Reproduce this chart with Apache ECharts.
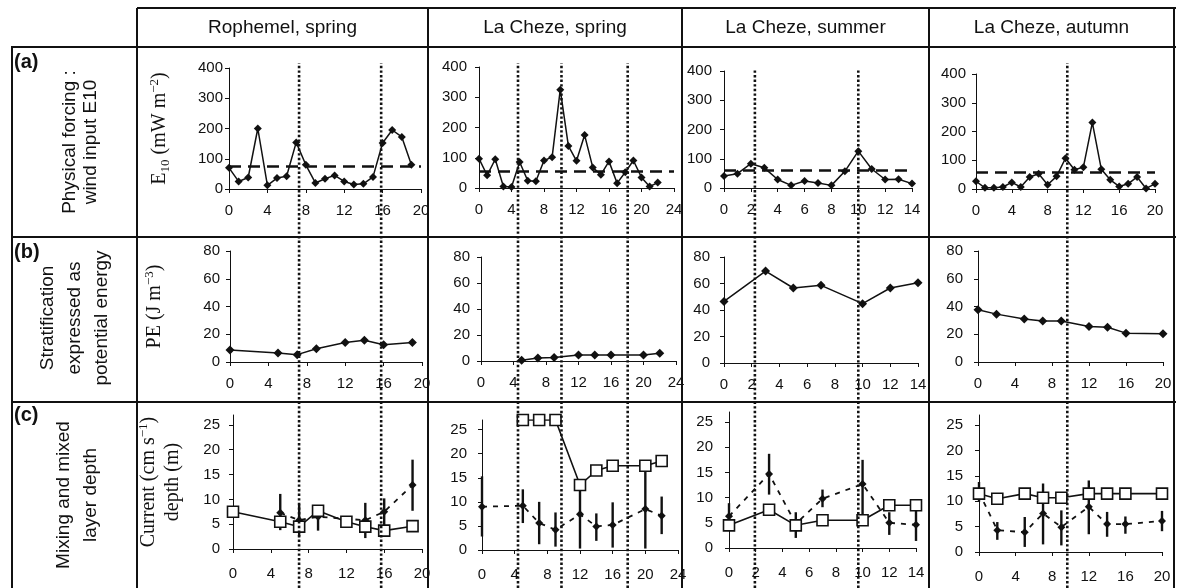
<!DOCTYPE html>
<html>
<head>
<meta charset="utf-8">
<script src="https://cdn.jsdelivr.net/npm/echarts@6/dist/echarts.min.js"></script>
<style>
  html, body { margin: 0; padding: 0; background: #fff; }
  #main { width: 1177px; height: 588px; }
</style>
</head>
<body>
<div id="main"></div>
<script>
  // ---- values ----
  var sites = ['Rophemel, spring', 'La Cheze, spring', 'La Cheze, summer', 'La Cheze, autumn'];
  var rowTags = ['(a)', '(b)', '(c)'];
  var rowText = ['Physical forcing :\nwind input E10', 'Stratification\nexpressed as\npotential energy', 'Mixing and mixed\nlayer depth'];

  var dayMax = [20, 24, 14, 20];
  var dayStep = [4, 4, 2, 4];

  // Rophemel, spring
  var ropDaysA = [0, 1, 2, 3, 4, 5, 6, 7, 8, 9, 10, 11, 12, 13, 14, 15, 16, 17, 18, 19];
  var ropE10 = [70, 25, 38, 200, 12, 36, 42, 154, 80, 20, 34, 45, 25, 15, 17, 40, 152, 195, 172, 80];
  var ropE10Mean = 75;
  var ropDaysB = [0, 5, 7, 9, 12, 14, 16, 19];
  var ropPE = [8.6, 6.5, 5.3, 9.6, 14.1, 15.6, 12.5, 14.1];
  var ropDaysDepth = [0, 5, 7, 9, 12, 14, 16, 19];
  var ropDepth = [7.5, 5.5, 4.5, 7.7, 5.5, 4.5, 3.7, 4.6];
  var ropDaysCur = [5, 7, 9, 14, 16, 19];
  var ropCur = [7.3, 5.8, 6.5, 5.8, 7.5, 12.9];
  var ropCurLow = [3.8, 2.5, 3.7, 2.2, 4.5, 7.7];
  var ropCurHigh = [11.1, 9, 8.5, 9.3, 10.2, 18];
  var ropEvents = [7.3, 15.85];

  // La Cheze, spring
  var lcsDaysA = [0, 1, 2, 3, 4, 5, 6, 7, 8, 9, 10, 11, 12, 13, 14, 15, 16, 17, 18, 19, 20, 21, 22];
  var lcsE10 = [97, 42, 95, 5, 3, 86, 24, 22, 91, 102, 325, 139, 90, 175, 68, 44, 88, 16, 52, 91, 35, 5, 18];
  var lcsE10Mean = 55;
  var lcsDaysB = [5, 7, 9, 12, 14, 16, 20, 22];
  var lcsPE = [0.5, 2.3, 2.6, 4.6, 4.6, 4.6, 4.6, 5.9];
  var lcsDaysDepth = [5, 7, 9, 12, 14, 16, 20, 22];
  var lcsDepth = [27, 27, 27, 13.5, 16.5, 17.5, 17.5, 18.5];
  var lcsDaysCur = [0, 5, 7, 9, 12, 14, 16, 20, 22];
  var lcsCur = [9.0, 9.2, 5.6, 4.2, 7.4, 4.9, 5.2, 8.5, 7.1];
  var lcsCurLow = [2.8, 5.6, 1.2, 0.7, 0.3, 1.9, 0.5, 0.3, 3.3];
  var lcsCurHigh = [15.3, 12.6, 10, 7.8, 13.5, 7.6, 9.9, 17, 11.1];
  var lcsEvents = [4.8, 10.15, 18.3];

  // La Cheze, summer
  var lcuDaysA = [0, 1, 2, 3, 4, 5, 6, 7, 8, 9, 10, 11, 12, 13, 14];
  var lcuE10 = [41, 49, 83, 69, 29, 9, 24, 17, 9, 57, 126, 65, 29, 30, 15];
  var lcuE10Mean = 62;
  var lcuDaysB = [0, 3, 5, 7, 10, 12, 14];
  var lcuPE = [46.5, 69.4, 56.6, 58.6, 44.8, 56.6, 60.6];
  var lcuDaysDepth = [0, 3, 5, 7, 10, 12, 14];
  var lcuDepth = [4.5, 7.6, 4.5, 5.5, 5.5, 8.5, 8.5];
  var lcuDaysCur = [0, 3, 5, 7, 10, 12, 14];
  var lcuCur = [6.3, 14.7, 4.8, 9.8, 12.7, 5.0, 4.6];
  var lcuCurLow = [4.5, 10.6, 2.0, 8.1, 5.6, 2.6, 1.4];
  var lcuCurHigh = [8.9, 18.7, 7.1, 11.6, 17.5, 7.1, 7.7];
  var lcuEvents = [2.3, 10];

  // La Cheze, autumn
  var lcaDaysA = [0, 1, 2, 3, 4, 5, 6, 7, 8, 9, 10, 11, 12, 13, 14, 15, 16, 17, 18, 19, 20];
  var lcaE10 = [27, 4, 4, 7, 23, 7, 42, 53, 15, 44, 107, 67, 76, 231, 69, 32, 9, 18, 42, 2, 18];
  var lcaE10Mean = 58;
  var lcaDaysB = [0, 2, 5, 7, 9, 12, 14, 16, 20];
  var lcaPE = [37.6, 34.5, 31, 29.5, 29.5, 25.6, 25, 20.8, 20.4];
  var lcaDaysDepth = [0, 2, 5, 7, 9, 12, 14, 16, 20];
  var lcaDepth = [11.5, 10.5, 11.5, 10.7, 10.7, 11.5, 11.5, 11.5, 11.5];
  var lcaDaysCur = [0, 2, 5, 7, 9, 12, 14, 16, 20];
  var lcaCur = [11.8, 4.3, 3.9, 7.6, 4.9, 8.9, 5.5, 5.5, 6.1];
  var lcaCurLow = [9.9, 2.4, 1, 1.5, 1.3, 3.5, 3.0, 3.6, 4.1];
  var lcaCurHigh = [13.8, 5.9, 6.9, 13.5, 8.2, 14.1, 7.9, 7.0, 8.1];
  var lcaEvents = [10.2];

  var currentTicks = [0, 5, 10, 15, 20, 25];

  // ---- layout ----
  var FONT = '"Liberation Sans", Arial, Helvetica, sans-serif';
  var SERIF = '"Liberation Serif", "Times New Roman", serif';
  var INK = '#111';

  // panel boxes [left, top, right, bottom]
  var boxA = [[229, 68, 421, 189], [479, 67, 674, 188], [724, 71, 912, 188], [976, 74, 1155, 189]];
  var boxB = [[230, 251, 422, 362], [481, 257, 676, 361], [724, 257, 918, 363], [978, 251, 1163, 362]];
  var boxC = [[233, 415, 422, 549], [482, 420, 678, 550], [729, 412, 916, 548], [979, 415, 1162, 552]];
  var yLabMargin = [[6, 12, 12, 10], [10, 11, 14, 15], [13, 15, 16, 16]];
  var xLabMargin = [14, 14, 17];
  var eventTop = [63, 63, 70, 63];
  var colEdges = [137, 428, 682, 929, 1174];

  var e10Days = [ropDaysA, lcsDaysA, lcuDaysA, lcaDaysA];
  var e10Vals = [ropE10, lcsE10, lcuE10, lcaE10];
  var e10Means = [ropE10Mean, lcsE10Mean, lcuE10Mean, lcaE10Mean];
  var peDays = [ropDaysB, lcsDaysB, lcuDaysB, lcaDaysB];
  var peVals = [ropPE, lcsPE, lcuPE, lcaPE];
  var depthDays = [ropDaysDepth, lcsDaysDepth, lcuDaysDepth, lcaDaysDepth];
  var depthVals = [ropDepth, lcsDepth, lcuDepth, lcaDepth];
  var curDays = [ropDaysCur, lcsDaysCur, lcuDaysCur, lcaDaysCur];
  var curVals = [ropCur, lcsCur, lcuCur, lcaCur];
  var curLow = [ropCurLow, lcsCurLow, lcuCurLow, lcaCurLow];
  var curHigh = [ropCurHigh, lcsCurHigh, lcuCurHigh, lcaCurHigh];
  var events = [ropEvents, lcsEvents, lcuEvents, lcaEvents];

  var grids = [], xAxes = [], yAxes = [], series = [], graphics = [];

  function pairs(xs, ys) {
    return xs.map(function (x, i) { return [x, ys[i]]; });
  }

  var nameRich = {
    t: { fontFamily: SERIF, fontSize: 20, color: INK, lineHeight: 24 },
    sub: { fontFamily: SERIF, fontSize: 13, color: INK, verticalAlign: 'bottom' },
    sup: { fontFamily: SERIF, fontSize: 13, color: INK, verticalAlign: 'top' }
  };

  function addPanel(box, c, row, yMax, yStep, yName, nameGap, yTicks) {
    var gi = grids.length;
    grids.push({ left: box[0], top: box[1], width: box[2] - box[0], height: box[3] - box[1], outerBoundsMode: 'none' });
    xAxes.push({
      gridIndex: gi, type: 'value', min: 0, max: dayMax[c], interval: dayStep[c],
      axisLine: { show: true, onZero: false, lineStyle: { color: INK, width: 1 } },
      axisTick: { show: true, length: 4, lineStyle: { color: INK, width: 1 } },
      axisLabel: { show: true, color: INK, fontFamily: FONT, fontSize: 15, margin: xLabMargin[row] },
      splitLine: { show: false }
    });
    var y = {
      gridIndex: gi, type: 'value', min: 0, max: yMax, interval: yStep,
      axisLine: { show: true, onZero: false, lineStyle: { color: INK, width: 1 } },
      axisTick: { show: true, length: 4, lineStyle: { color: INK, width: 1 } },
      axisLabel: { show: true, color: INK, fontFamily: FONT, fontSize: 15, margin: yLabMargin[row][c] },
      splitLine: { show: false }
    };
    if (yTicks) {
      y.axisTick.customValues = yTicks;
      y.axisLabel.customValues = yTicks;
      y.axisLabel.formatter = function (v) { return yTicks.indexOf(v) >= 0 ? String(v) : ''; };
    }
    if (yName) {
      y.name = yName;
      y.nameLocation = 'middle';
      y.nameRotate = 90;
      y.nameGap = nameGap;
      y.nameTextStyle = { fontFamily: SERIF, fontSize: 20, color: INK, rich: nameRich };
    }
    yAxes.push(y);
    return gi;
  }

  function errorBar(params, api) {
    var hi = api.coord([api.value(0), api.value(2)]);
    var lo = api.coord([api.value(0), api.value(1)]);
    return {
      type: 'line',
      shape: { x1: hi[0], y1: hi[1], x2: lo[0], y2: lo[1] },
      style: { stroke: INK, lineWidth: 2.4 }
    };
  }

  for (var c = 0; c < 4; c++) {
    // (a) wind input
    var ga = addPanel(boxA[c], c, 0, 400, 100,
      c === 0 ? '{t|E}{sub|10}{t| (mW m}{sup|−2}{t|)}' : null, 57);
    series.push({
      type: 'line', xAxisIndex: ga, yAxisIndex: ga, data: pairs(e10Days[c], e10Vals[c]),
      symbol: 'diamond', symbolSize: 8, itemStyle: { color: INK },
      lineStyle: { color: INK, width: 1.5 }, z: 3,
      markLine: {
        silent: true, symbol: ['none', 'none'], label: { show: false }, animation: false,
        lineStyle: { color: INK, width: 2.6, type: [12, 7] },
        data: [{ yAxis: e10Means[c] }]
      }
    });

    // (b) potential energy
    var gb = addPanel(boxB[c], c, 1, 80, 20,
      c === 0 ? '{t|PE (J m}{sup|−3}{t|)}' : null, 63);
    series.push({
      type: 'line', xAxisIndex: gb, yAxisIndex: gb, data: pairs(peDays[c], peVals[c]),
      symbol: 'diamond', symbolSize: 9, itemStyle: { color: INK },
      lineStyle: { color: INK, width: 1.5 }, z: 3
    });

    // (c) current and mixed layer depth
    var gc = addPanel(boxC[c], c, 2, 27, 5,
      c === 0 ? '{t|Current (cm s}{sup|−1}{t|)}\n{t|depth (m)}' : null, 48, currentTicks);
    series.push({
      type: 'custom', xAxisIndex: gc, yAxisIndex: gc, renderItem: errorBar,
      encode: { x: 0, y: [1, 2] }, z: 2,
      data: curDays[c].map(function (d, i) { return [d, curLow[c][i], curHigh[c][i]]; }, null)
    });
    series.push({
      type: 'line', xAxisIndex: gc, yAxisIndex: gc, data: pairs(curDays[c], curVals[c]),
      symbol: 'diamond', symbolSize: 8, itemStyle: { color: INK },
      lineStyle: { color: INK, width: 1.8, type: [5, 6] }, z: 3
    });
    series.push({
      type: 'line', xAxisIndex: gc, yAxisIndex: gc, data: pairs(depthDays[c], depthVals[c]),
      symbol: 'rect', symbolSize: 11,
      itemStyle: { color: '#fff', borderColor: INK, borderWidth: 1.6 },
      lineStyle: { color: INK, width: 1.6 }, z: 4
    });

    // event lines running through the whole column
    var ge = grids.length;
    grids.push({ left: boxA[c][0], top: eventTop[c], width: boxA[c][2] - boxA[c][0], height: 588 - eventTop[c], outerBoundsMode: 'none' });
    xAxes.push({ gridIndex: ge, type: 'value', min: 0, max: dayMax[c], show: false });
    yAxes.push({ gridIndex: ge, type: 'value', min: 0, max: 1, show: false });
    events[c].forEach(function (d) {
      series.push({
        type: 'line', xAxisIndex: ge, yAxisIndex: ge, data: [[d, 0], [d, 1]],
        symbol: 'none', silent: true, z: 5,
        lineStyle: { color: INK, width: 2.6, type: [2.4, 2.2] }
      });
    });

    // column header
    graphics.push({
      type: 'text', x: (colEdges[c] + colEdges[c + 1]) / 2, y: 28, silent: true,
      style: { text: sites[c], fontFamily: FONT, fontSize: 19, fill: INK, align: 'center', verticalAlign: 'middle' }
    });
  }

  // table rules
  function rule(x1, y1, x2, y2) {
    graphics.push({ type: 'line', silent: true, shape: { x1: x1, y1: y1, x2: x2, y2: y2 }, style: { stroke: INK, lineWidth: 2 } });
  }
  rule(137, 8, 1176, 8);
  rule(11, 47, 1176, 47);
  rule(11, 237, 1176, 237);
  rule(11, 402, 1176, 402);
  rule(12, 47, 12, 588);
  colEdges.forEach(function (x) { rule(x, 8, x, 588); });

  // row tags and descriptions
  var tagY = [62, 252, 415];
  var rowMid = [142, 318, 495];
  var rowCx = [80, 75, 77];
  var rowLH = [21, 27, 27];
  for (var r = 0; r < 3; r++) {
    graphics.push({
      type: 'text', x: 14, y: tagY[r], silent: true,
      style: { text: rowTags[r], fontFamily: FONT, fontWeight: 'bold', fontSize: 20, fill: INK, align: 'left', verticalAlign: 'middle' }
    });
    graphics.push({
      type: 'text', x: rowCx[r], y: rowMid[r], rotation: Math.PI / 2, silent: true,
      style: { text: rowText[r], fontFamily: FONT, fontSize: 19, lineHeight: rowLH[r], fill: INK, align: 'center', verticalAlign: 'middle' }
    });
  }

  var chart = echarts.init(document.getElementById('main'));
  chart.setOption({
    animation: false,
    backgroundColor: '#fff',
    textStyle: { fontFamily: FONT },
    grid: grids,
    xAxis: xAxes,
    yAxis: yAxes,
    series: series,
    graphic: graphics
  });
</script>
</body>
</html>
